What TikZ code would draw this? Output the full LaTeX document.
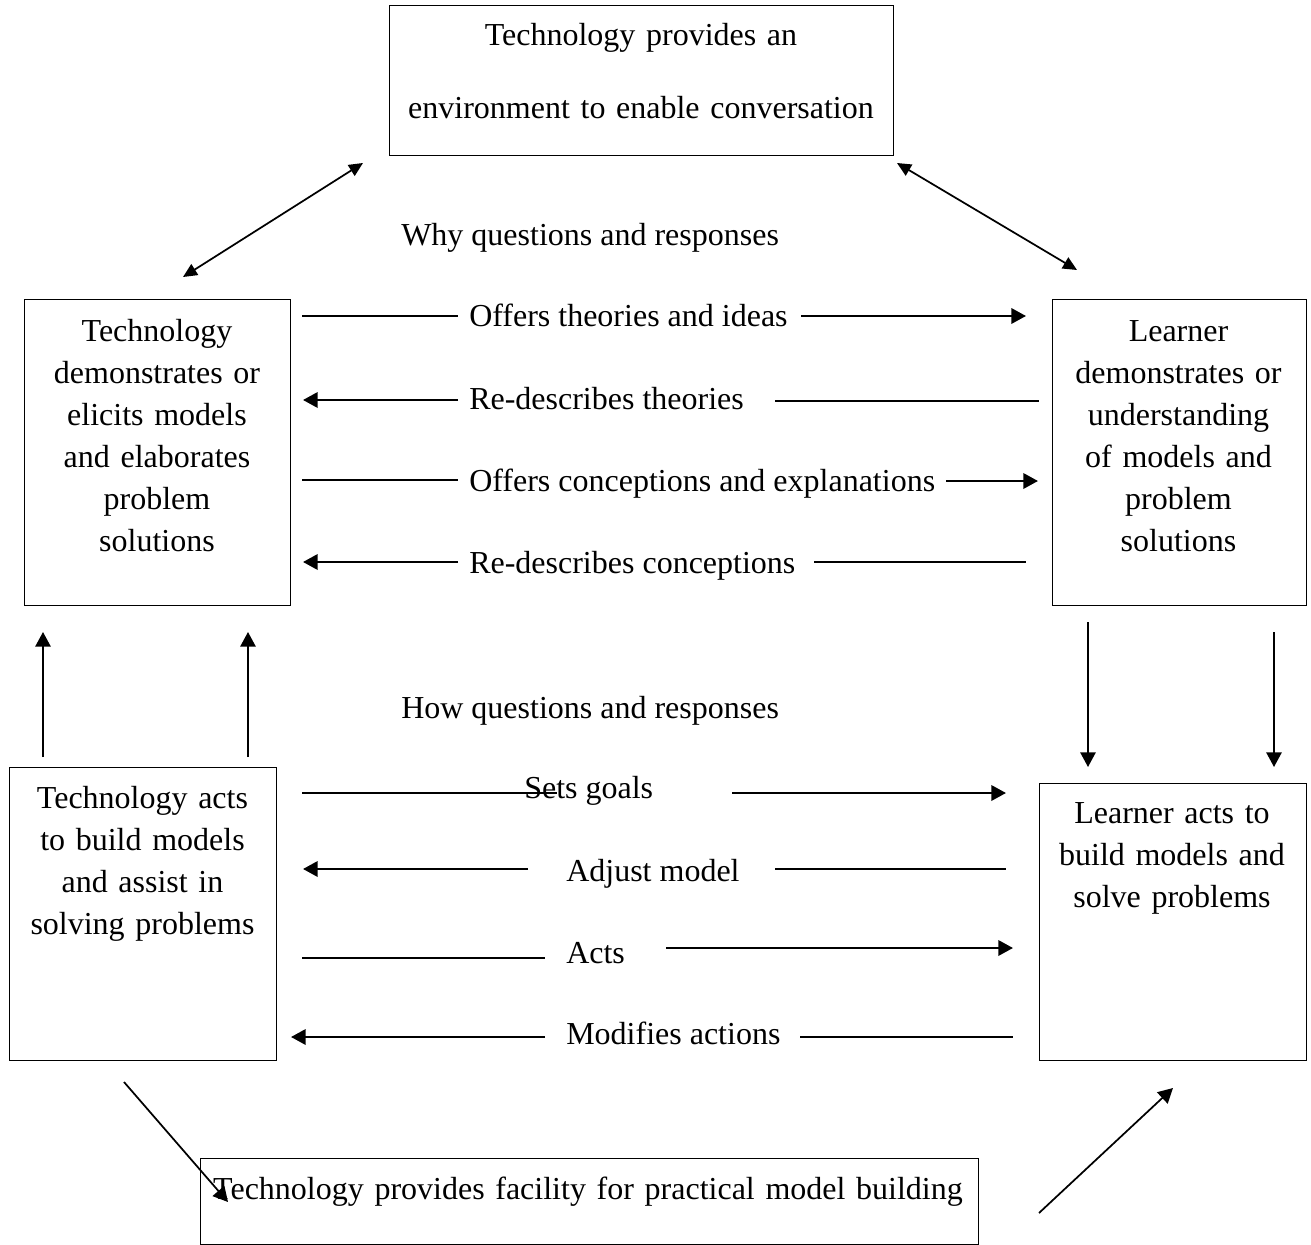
\documentclass[tikz,border=0pt]{standalone}
\usepackage{fontspec}
\setmainfont{Liberation Serif}
\usetikzlibrary{arrows.meta}

\tikzset{
  box/.style={draw, line width=1.1pt, inner sep=0pt, anchor=north west},
  boxtext/.style={anchor=base, inner sep=0pt, align=center},
  rowtext/.style={anchor=base west, inner sep=0pt},
  plainline/.style={line width=1.1pt},
  headarrow/.style={line width=1.8pt, -{Triangle[length=11pt,width=11.5pt]}},
  thinarrow/.style={line width=1.3pt, -{Triangle[length=11pt,width=11.5pt]}},
  twoarrow/.style={line width=1.3pt, {Triangle[length=10.5pt,width=9.5pt]}-{Triangle[length=10.5pt,width=9.5pt]}},
}

\begin{document}
\begin{tikzpicture}[x=0.75pt,y=0.75pt,yscale=-1,xscale=1,font=\fontsize{24}{31.6}\selectfont]
\useasboundingbox (0,0) rectangle (1311,1245);

%Shape: Boxes
\node[box, minimum width=378pt, minimum height=112.5pt] (env) at (389,5) {};
\node[box, minimum width=199.5pt, minimum height=229.5pt] (techdemo) at (24,299) {};
\node[box, minimum width=190.5pt, minimum height=229.5pt] (learndemo) at (1052,299) {};
\node[box, minimum width=200.25pt, minimum height=219.75pt] (techacts) at (9,767) {};
\node[box, minimum width=200.25pt, minimum height=207.75pt] (learnacts) at (1039,783) {};
\node[box, minimum width=583.5pt, minimum height=64.5pt] (facility) at (200,1158) {};

% Text Node
\node[boxtext, text width=378pt, font=\fontsize{24}{54.75}\selectfont] (envtxt) at (641,46) {Technology provides an\\environment to enable conversation};
% Text Node
\node[boxtext, text width=199.5pt] (techdemotxt) at (157,341) {Technology\\demonstrates or\\elicits models\\and elaborates\\problem\\solutions};
% Text Node
\node[boxtext, text width=190.5pt] (learndemotxt) at (1178.5,341) {Learner\\demonstrates or\\understanding\\of models and\\problem\\solutions};
% Text Node
\node[boxtext, text width=200.25pt] (techactstxt) at (142.5,808) {Technology acts\\to build models\\and assist in\\solving problems};
% Text Node
\node[boxtext, text width=200.25pt] (learnactstxt) at (1172,823) {Learner acts to\\build models and\\solve problems};
% Text Node
\node[boxtext, text width=583.5pt] (facilitytxt) at (588,1199) {Technology provides facility for practical model building};

% Text Node
\node[rowtext] (why) at (401,246) {Why questions and responses};
\node[rowtext] (how) at (401,718) {How questions and responses};
\node[rowtext] (theories) at (469,326) {Offers theories and ideas};
\node[rowtext] (redesc) at (469,409) {Re-describes theories};
\node[rowtext] (concept) at (469,491) {Offers conceptions and explanations};
\node[rowtext] (reconcept) at (469,573) {Re-describes conceptions};
\node[rowtext] (goals) at (524,798) {Sets goals};
\node[rowtext] (adjust) at (566,881) {Adjust model};
\node[rowtext] (acts) at (566,963) {Acts};
\node[rowtext] (modifies) at (566,1044) {Modifies actions};

%Coordinates: line ends
\coordinate (tw1) at (183,277); \coordinate (tw2) at (363,163);
\coordinate (tw3) at (897,163); \coordinate (tw4) at (1077,270);
\coordinate (ra1) at (302,316); \coordinate (ra2) at (458,316);
\coordinate (ra3) at (801,316); \coordinate (ra4) at (1026,316);
\coordinate (rb1) at (458,400); \coordinate (rb2) at (303,400);
\coordinate (rb3) at (775,401); \coordinate (rb4) at (1039,401);
\coordinate (rc1) at (302,480); \coordinate (rc2) at (458,480);
\coordinate (rc3) at (946,481); \coordinate (rc4) at (1038,481);
\coordinate (rd1) at (458,562); \coordinate (rd2) at (303,562);
\coordinate (rd3) at (814,562); \coordinate (rd4) at (1026,562);
\coordinate (up1) at (43,757); \coordinate (up2) at (43,632);
\coordinate (up3) at (248,757); \coordinate (up4) at (248,632);
\coordinate (dn1) at (1088,622); \coordinate (dn2) at (1088,767);
\coordinate (dn3) at (1274,632); \coordinate (dn4) at (1274,767);
\coordinate (re1) at (302,793); \coordinate (re2) at (557,793);
\coordinate (re3) at (732,793); \coordinate (re4) at (1006,793);
\coordinate (rf1) at (528,869); \coordinate (rf2) at (303,869);
\coordinate (rf3) at (775,869); \coordinate (rf4) at (1006,869);
\coordinate (rg1) at (302,958); \coordinate (rg2) at (545,958);
\coordinate (rg3) at (666,948); \coordinate (rg4) at (1013,948);
\coordinate (rh1) at (545,1037); \coordinate (rh2) at (291,1037);
\coordinate (rh3) at (800,1037); \coordinate (rh4) at (1013,1037);
\coordinate (dg1) at (124,1082); \coordinate (dg2) at (228,1202);
\coordinate (dg3) at (1039,1213); \coordinate (dg4) at (1173,1088);

%Double Arrows
\draw[twoarrow] (tw1) -- (tw2);
\draw[twoarrow] (tw3) -- (tw4);

%Straight Lines: why rows
\draw[plainline] (ra1) -- (ra2);
\draw[headarrow] (ra3) -- (ra4);
\draw[headarrow] (rb1) -- (rb2);
\draw[plainline] (rb3) -- (rb4);
\draw[plainline] (rc1) -- (rc2);
\draw[headarrow] (rc3) -- (rc4);
\draw[headarrow] (rd1) -- (rd2);
\draw[plainline] (rd3) -- (rd4);

%Vertical Arrows
\draw[thinarrow] (up1) -- (up2);
\draw[thinarrow] (up3) -- (up4);
\draw[thinarrow] (dn1) -- (dn2);
\draw[thinarrow] (dn3) -- (dn4);

%Straight Lines: how rows
\draw[plainline] (re1) -- (re2);
\draw[headarrow] (re3) -- (re4);
\draw[headarrow] (rf1) -- (rf2);
\draw[plainline] (rf3) -- (rf4);
\draw[plainline] (rg1) -- (rg2);
\draw[headarrow] (rg3) -- (rg4);
\draw[headarrow] (rh1) -- (rh2);
\draw[plainline] (rh3) -- (rh4);

%Diagonal Arrows
\draw[thinarrow] (dg1) -- (dg2);
\draw[thinarrow] (dg3) -- (dg4);

\end{tikzpicture}
\end{document}
